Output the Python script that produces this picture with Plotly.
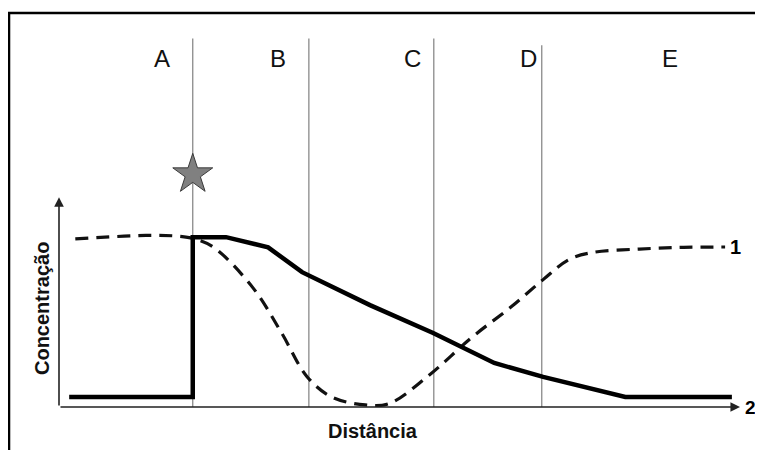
import plotly.graph_objects as go

# zones along the distance axis
zone_labels = ["A", "B", "C", "D", "E"]
zone_label_x = [15.2, 32.3, 52.0, 69.2, 90.0]
zone_bounds = [19.7, 36.8, 55.2, 71.1]
zone_bound_top = [2.17, 2.17, 2.17, 2.13]

# curve 1 (dashed)
dist_1 = [2.4, 12.8, 17.8, 20.0, 22.8, 28.6, 32.8, 36.5, 40.1, 45.1, 48.6,
          54.3, 60.8, 66.6, 71.3, 75.1, 78.6, 85.5, 92.0, 98.1]
conc_1 = [0.99, 1.01, 1.005, 0.99, 0.94, 0.70, 0.435, 0.18, 0.06, 0.012, 0.02,
          0.18, 0.41, 0.59, 0.75, 0.868, 0.91, 0.93, 0.94, 0.942]

# curve 2 (solid)
dist_2 = [1.5, 19.7, 19.7, 24.6, 30.8, 35.8, 45.8, 55.1, 64.1, 71.3, 83.4, 99.1]
conc_2 = [0.059, 0.059, 1.0, 1.0, 0.94, 0.794, 0.60, 0.436, 0.259, 0.177, 0.059, 0.059]

star_x = [19.7]
star_y = [1.37]

font = "Liberation Sans, Arial, sans-serif"

fig = go.Figure()

fig.add_trace(go.Scatter(x=dist_1, y=conc_1, mode="lines", line_shape="spline",
                         line=dict(color="#111", width=3.2, dash="13px,8px"),
                         showlegend=False, hoverinfo="skip"))
fig.add_trace(go.Scatter(x=dist_2, y=conc_2, mode="lines",
                         line=dict(color="#000", width=4.5),
                         showlegend=False, hoverinfo="skip"))
fig.add_trace(go.Scatter(x=star_x, y=star_y, mode="markers",
                         marker=dict(symbol="star", size=30, color="#808080",
                                     line=dict(color="#3a3a3a", width=1)),
                         showlegend=False, hoverinfo="skip"))

for xb, top in zip(zone_bounds, zone_bound_top):
    fig.add_shape(type="line", x0=xb, x1=xb, y0=0, y1=top, xref="x", yref="y",
                  line=dict(color="#808080", width=1.2), layer="below")

for lab, xl in zip(zone_labels, zone_label_x):
    fig.add_annotation(x=xl, y=2.05, text=lab, showarrow=False,
                       font=dict(family=font, size=24, color="#111"))

# axes with arrows
fig.add_annotation(x=100.3, y=0, ax=0, ay=0, axref="x", ayref="y", text="",
                   showarrow=True, arrowhead=2, arrowsize=1.2, arrowwidth=1.6, arrowcolor="#222")
fig.add_annotation(x=0, y=1.235, ax=0, ay=0, axref="x", ayref="y", text="",
                   showarrow=True, arrowhead=2, arrowsize=1.2, arrowwidth=1.6, arrowcolor="#222")

# curve labels
fig.add_annotation(x=dist_1[-1], y=conc_1[-1], text="<b>1</b>", showarrow=False,
                   xanchor="left", xshift=3, font=dict(family=font, size=20, color="#000"))
fig.add_annotation(xref="paper", yref="y", x=1.0075, y=0.0, text="<b>2</b>", showarrow=False,
                   xanchor="left", yanchor="middle",
                   font=dict(family=font, size=19, color="#000"))

# outer frame
fig.add_shape(type="rect", xref="paper", yref="paper", x0=-0.0736, x1=1.2, y0=-0.3, y1=1.0,
              line=dict(color="#000", width=2.5))

# page body has an 8px margin, margins are pulled in to compensate
fig.update_layout(
    width=755, height=442,
    margin=dict(l=51, r=25, t=5, b=43),
    paper_bgcolor="white", plot_bgcolor="white",
    xaxis=dict(range=[0, 100], visible=False, fixedrange=True),
    yaxis=dict(range=[0, 2.32], visible=False, fixedrange=True),
    annotations=list(fig.layout.annotations) + [
        dict(xref="paper", yref="paper", x=(373 - 59) / 679, y=-0.06,
             xanchor="center", yanchor="middle",
             text="<b>Distância</b>", showarrow=False,
             font=dict(family=font, size=20, color="#111")),
        dict(xref="paper", yref="paper", x=-0.025, y=(407 - 309) / 394, textangle=-90,
             xanchor="center", yanchor="middle",
             text="<b>Concentração</b>", showarrow=False,
             font=dict(family=font, size=20, color="#111")),
    ],
)

fig.write_html("out.html")
